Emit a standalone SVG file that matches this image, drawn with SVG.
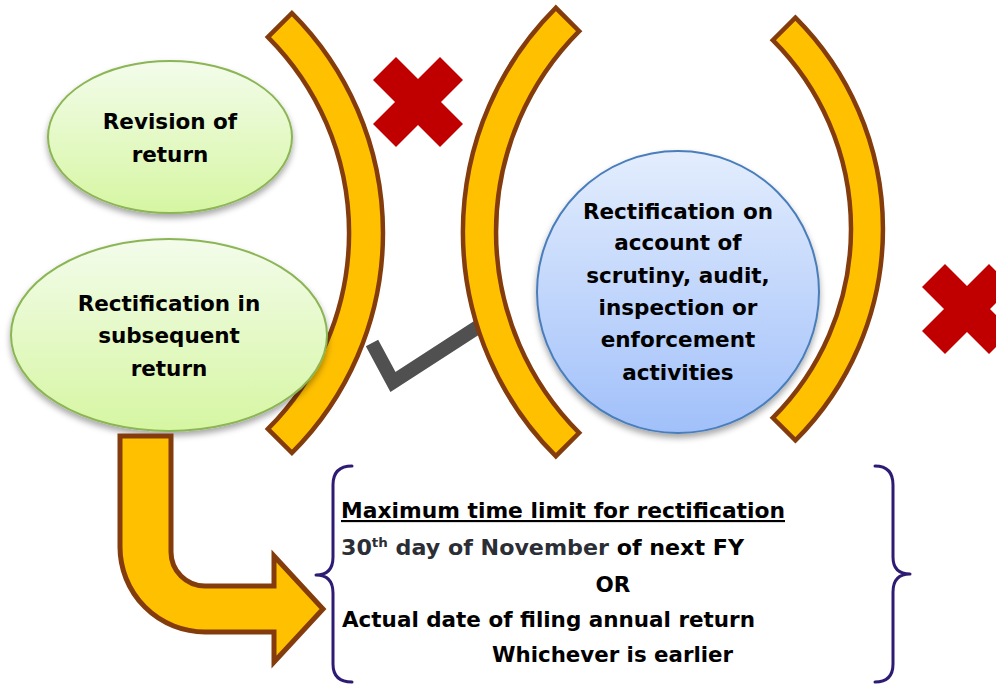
<svg xmlns="http://www.w3.org/2000/svg" width="996" height="684" viewBox="0 0 996 684">
  <defs>
    <linearGradient id="gGreen" x1="0" y1="0" x2="0" y2="1">
      <stop offset="0" stop-color="#F3FCEB"/>
      <stop offset="1" stop-color="#D6F6A2"/>
    </linearGradient>
    <linearGradient id="gBlue" x1="0" y1="0" x2="0" y2="1">
      <stop offset="0" stop-color="#E3EDFD"/>
      <stop offset="1" stop-color="#A1C0FA"/>
    </linearGradient>
    <filter id="shadow" x="-10%" y="-10%" width="120%" height="130%">
      <feDropShadow dx="0" dy="4" stdDeviation="3" flood-color="#000" flood-opacity="0.35"/>
    </filter>
  </defs>
  <style>
    .bracket { fill: #FFC000; stroke: #843C0C; stroke-width: 4.5; stroke-linejoin: miter; }
    .cross { fill: #C00000; }
    .ell { fill: url(#gGreen); stroke: #8CB555; stroke-width: 2; filter: url(#shadow); }
    .circ { fill: url(#gBlue); stroke: #4A7EBB; stroke-width: 2; filter: url(#shadow); }
    .brace { fill: none; stroke: #2E1B74; stroke-width: 3; stroke-linecap: round; stroke-linejoin: round; }
    text { font-family: "DejaVu Sans", "Liberation Sans", sans-serif; font-weight: bold; font-size: 21.5px; fill: #000; }
    .c { text-anchor: middle; }
    .gray { fill: #2B2E35; }
  </style>

  <rect x="0" y="0" width="996" height="684" fill="#FFFFFF"/>

  <g id="check">
    <polyline points="372,343 393,382 481,325" fill="none" stroke="#505050" stroke-width="14" stroke-linejoin="miter"/>
  </g>

  <g id="bracket1">
    <path class="bracket" d="M 291.9,13.1 A 311 311 0 0 1 291.9,452.9 L 267.9,428.9 A 277 277 0 0 0 267.9,37.1 Z"/>
  </g>
  <g id="bracket2">
    <path class="bracket" d="M 555.8,7.8 A 317 317 0 0 0 555.8,456.2 L 579.2,432.8 A 284 284 0 0 1 579.2,31.2 Z"/>
  </g>
  <g id="bracket3">
    <path class="bracket" d="M 795.4,17.6 A 299 299 0 0 1 795.4,440.4 L 772.8,417.8 A 267 267 0 0 0 772.8,40.2 Z"/>
  </g>

  <g id="cross1">
    <polygon class="cross" points="418,79 440,57 463,80 441,102 463,124 440,147 418,125 396,147 373,124 395,102 373,80 396,57"/>
  </g>
  <g id="cross2">
    <polygon class="cross" points="967,286 989,264 1012,287 990,309 1012,331 989,354 967,332 945,354 922,331 944,309 922,287 945,264"/>
  </g>

  <g id="revision">
    <ellipse class="ell" cx="170" cy="137" rx="122" ry="76"/>
    <text class="c" x="170" y="129">Revision of</text>
    <text class="c" x="170" y="162">return</text>
  </g>

  <g id="rect-subsequent">
    <ellipse class="ell" cx="169" cy="335" rx="158" ry="96"/>
    <text class="c" x="169" y="311">Rectification in</text>
    <text class="c" x="169" y="343">subsequent</text>
    <text class="c" x="169" y="376">return</text>
  </g>

  <g id="rect-scrutiny">
    <circle class="circ" cx="678" cy="292" r="141"/>
    <text class="c" x="678" y="219">Rectification on</text>
    <text class="c" x="678" y="250">account of</text>
    <text class="c" x="678" y="283">scrutiny, audit,</text>
    <text class="c" x="678" y="315">inspection or</text>
    <text class="c" x="678" y="347">enforcement</text>
    <text class="c" x="678" y="380">activities</text>
  </g>

  <g id="connectors">
    <path d="M 120,436 L 171,436 L 171,552 A 34 34 0 0 0 205,586 L 274,586 L 274,556 L 323,609 L 274,662 L 274,632 L 205,632 A 85 85 0 0 1 120,547 Z" fill="#FFC000" stroke="#843C0C" stroke-width="5" stroke-linejoin="miter"/>
  </g>

  <g id="time-limit">
    <path class="brace" d="M 352,466 Q 333,466 333,485 L 333,557 Q 333,575 316,575 Q 333,575 333,593 L 333,664 Q 333,682 352,682"/>
    <path class="brace" d="M 875,466 Q 893,466 893,485 L 893,557 Q 893,574 910,574 Q 893,574 893,592 L 893,664 Q 893,682 875,682"/>
    <text x="341" y="518" textLength="444" lengthAdjust="spacingAndGlyphs" text-decoration="underline">Maximum time limit for rectification</text>
    <text x="341" y="555" textLength="403" lengthAdjust="spacingAndGlyphs"><tspan class="gray">30</tspan><tspan class="gray" font-size="13" dy="-8">th</tspan><tspan class="gray" dy="8"> day of November</tspan> of next FY</text>
    <text class="c" x="613" y="592">OR</text>
    <text x="342" y="627" textLength="413" lengthAdjust="spacingAndGlyphs">Actual date of filing annual return</text>
    <text x="492" y="662" textLength="241" lengthAdjust="spacingAndGlyphs">Whichever is earlier</text>
  </g>
</svg>
